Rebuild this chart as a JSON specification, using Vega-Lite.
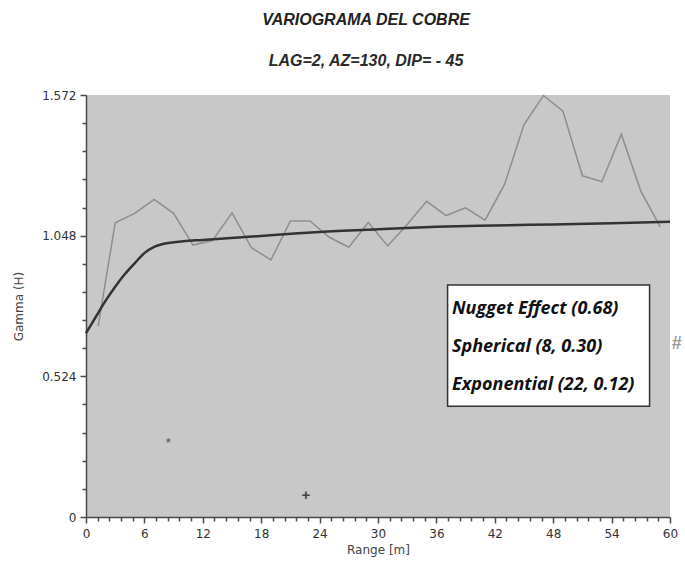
{
  "$schema": "https://vega.github.io/schema/vega-lite/v6.json",
  "autosize": "none",
  "width": 584,
  "height": 422,
  "padding": {"left": 86, "top": 95, "right": 15, "bottom": 45},
  "background": "white",
  "title": {
    "text": "VARIOGRAMA DEL COBRE",
    "subtitle": "LAG=2, AZ=130, DIP= - 45",
    "anchor": "middle",
    "frame": "group",
    "offset": 20,
    "dx": -12,
    "font": "Liberation Sans",
    "fontSize": 16,
    "fontStyle": "italic",
    "fontWeight": "bold",
    "color": "#222222",
    "subtitleFont": "Liberation Sans",
    "subtitleFontSize": 16,
    "subtitleFontStyle": "italic",
    "subtitleFontWeight": "bold",
    "subtitleColor": "#2a2a2a",
    "subtitlePadding": 25
  },
  "config": {
    "view": {"fill": "#c8c8c8", "stroke": null},
    "axis": {
      "grid": false,
      "domainColor": "#4a4a4a",
      "domainWidth": 1.5,
      "tickColor": "#4a4a4a",
      "tickWidth": 1.5,
      "labelFont": "DejaVu Sans",
      "labelFontSize": 12,
      "labelColor": "#333333",
      "titleFont": "DejaVu Sans",
      "titleFontSize": 12,
      "titleFontWeight": "normal",
      "titleColor": "#444444",
      "labelOverlap": false
    }
  },
  "datasets": {
    "experimental": [
      {"range": 1.25, "gamma": 0.711},
      {"range": 3, "gamma": 1.096},
      {"range": 5, "gamma": 1.131},
      {"range": 7, "gamma": 1.183},
      {"range": 9, "gamma": 1.131},
      {"range": 11, "gamma": 1.013},
      {"range": 13, "gamma": 1.03},
      {"range": 15, "gamma": 1.133},
      {"range": 17, "gamma": 1.003},
      {"range": 19, "gamma": 0.958},
      {"range": 21, "gamma": 1.103},
      {"range": 23, "gamma": 1.103},
      {"range": 25, "gamma": 1.042},
      {"range": 27, "gamma": 1.005},
      {"range": 29, "gamma": 1.097},
      {"range": 31, "gamma": 1.01},
      {"range": 33, "gamma": 1.09},
      {"range": 35, "gamma": 1.176},
      {"range": 37, "gamma": 1.123},
      {"range": 39, "gamma": 1.152},
      {"range": 41, "gamma": 1.106},
      {"range": 43, "gamma": 1.239},
      {"range": 45, "gamma": 1.462},
      {"range": 47, "gamma": 1.57},
      {"range": 49, "gamma": 1.512},
      {"range": 51, "gamma": 1.271},
      {"range": 53, "gamma": 1.249},
      {"range": 55, "gamma": 1.426},
      {"range": 57, "gamma": 1.214},
      {"range": 59, "gamma": 1.081}
    ],
    "model": [
      {"range": 0, "gamma": 0.685},
      {"range": 1, "gamma": 0.745},
      {"range": 2, "gamma": 0.805},
      {"range": 3, "gamma": 0.858},
      {"range": 4, "gamma": 0.905},
      {"range": 5, "gamma": 0.945},
      {"range": 6, "gamma": 0.983},
      {"range": 7, "gamma": 1.006},
      {"range": 8, "gamma": 1.018},
      {"range": 10, "gamma": 1.027},
      {"range": 12, "gamma": 1.032},
      {"range": 16, "gamma": 1.042},
      {"range": 20, "gamma": 1.052},
      {"range": 24, "gamma": 1.062},
      {"range": 30, "gamma": 1.072},
      {"range": 36, "gamma": 1.081},
      {"range": 42, "gamma": 1.086},
      {"range": 48, "gamma": 1.09},
      {"range": 54, "gamma": 1.094},
      {"range": 60, "gamma": 1.1}
    ],
    "box": [
      {"x1": 37.15, "x2": 57.9, "y1": 0.864, "y2": 0.4126}
    ],
    "labels": [
      {"range": 37.6, "gamma": 0.774, "text": "Nugget Effect (0.68)"},
      {"range": 37.6, "gamma": 0.6325, "text": "Spherical (8, 0.30)"},
      {"range": 37.6, "gamma": 0.491, "text": "Exponential (22, 0.12)"}
    ],
    "markers": [
      {"range": 8.46, "gamma": 0.276, "symbol": "*", "kind": "a"},
      {"range": 22.6, "gamma": 0.081, "symbol": "+", "kind": "b"},
      {"range": 60.7, "gamma": 0.646, "symbol": "#", "kind": "c"}
    ]
  },
  "layer": [
    {
      "data": {"name": "experimental"},
      "mark": {"type": "line", "color": "#8e8e8e", "strokeWidth": 1.5},
      "encoding": {
        "x": {
          "field": "range",
          "type": "quantitative",
          "title": "Range [m]",
          "scale": {"domain": [0, 60], "nice": false, "zero": true},
          "axis": {
            "values": [0, 1.2, 2.4, 3.6, 4.8, 6, 7.2, 8.4, 9.6, 10.8, 12, 13.2, 14.4, 15.6, 16.8, 18, 19.2, 20.4, 21.6, 22.8, 24, 25.2, 26.4, 27.6, 28.8, 30, 31.2, 32.4, 33.6, 34.8, 36, 37.2, 38.4, 39.6, 40.8, 42, 43.2, 44.4, 45.6, 46.8, 48, 49.2, 50.4, 51.6, 52.8, 54, 55.2, 56.4, 57.6, 58.8, 60],
            "tickCount": 200,
            "labelExpr": "abs(datum.value/6 - round(datum.value/6)) < 0.001 ? format(datum.value, 'd') : ''",
            "tickSize": {"condition": {"test": "abs(datum.value/6 - round(datum.value/6)) < 0.001", "value": 6}, "value": 4},
            "labelOverlap": false,
            "labelFlush": false,
            "labelPadding": 5,
            "titlePadding": 5
          }
        },
        "y": {
          "field": "gamma",
          "type": "quantitative",
          "title": "Gamma (H)",
          "scale": {"domain": [0, 1.572], "nice": false, "zero": true},
          "axis": {
            "values": [0, 0.1048, 0.2096, 0.3144, 0.4192, 0.524, 0.6288, 0.7336, 0.8384, 0.9432, 1.048, 1.1528, 1.2576, 1.3624, 1.4672, 1.572],
            "tickCount": 200,
            "labelExpr": "abs(datum.value/0.524 - round(datum.value/0.524)) < 0.001 ? (datum.value == 0 ? '0' : format(datum.value, '.3f')) : ''",
            "tickSize": {"condition": {"test": "abs(datum.value/0.524 - round(datum.value/0.524)) < 0.001", "value": 6}, "value": 4},
            "labelOverlap": false,
            "labelFlush": false,
            "labelPadding": 4,
            "titlePadding": 16
          }
        }
      }
    },
    {
      "data": {"name": "model"},
      "mark": {"type": "line", "color": "#333333", "strokeWidth": 2.5, "interpolate": "monotone"},
      "encoding": {
        "x": {"field": "range", "type": "quantitative"},
        "y": {"field": "gamma", "type": "quantitative"}
      }
    },
    {
      "data": {"name": "box"},
      "mark": {"type": "rect", "fill": "white", "stroke": "#333333", "strokeWidth": 1.5},
      "encoding": {
        "x": {"field": "x1", "type": "quantitative"},
        "x2": {"field": "x2"},
        "y": {"field": "y1", "type": "quantitative"},
        "y2": {"field": "y2"}
      }
    },
    {
      "data": {"name": "labels"},
      "mark": {"type": "text", "align": "left", "baseline": "middle", "font": "Open Sans", "fontSize": 18, "fontStyle": "italic", "fontWeight": "bold", "color": "#111111"},
      "encoding": {
        "x": {"field": "range", "type": "quantitative"},
        "y": {"field": "gamma", "type": "quantitative"},
        "text": {"field": "text"}
      }
    },
    {
      "data": {"name": "markers"},
      "mark": {"type": "text", "align": "center", "baseline": "middle", "font": "Liberation Sans", "fontWeight": "bold"},
      "encoding": {
        "x": {"field": "range", "type": "quantitative"},
        "y": {"field": "gamma", "type": "quantitative"},
        "text": {"field": "symbol"},
        "color": {"field": "kind", "type": "nominal", "scale": {"domain": ["a", "b", "c"], "range": ["#6e6e6e", "#444444", "#9a9a9a"]}, "legend": null},
        "size": {"field": "kind", "type": "nominal", "scale": {"domain": ["a", "b", "c"], "range": [12, 18, 14]}, "legend": null}
      }
    }
  ]
}
